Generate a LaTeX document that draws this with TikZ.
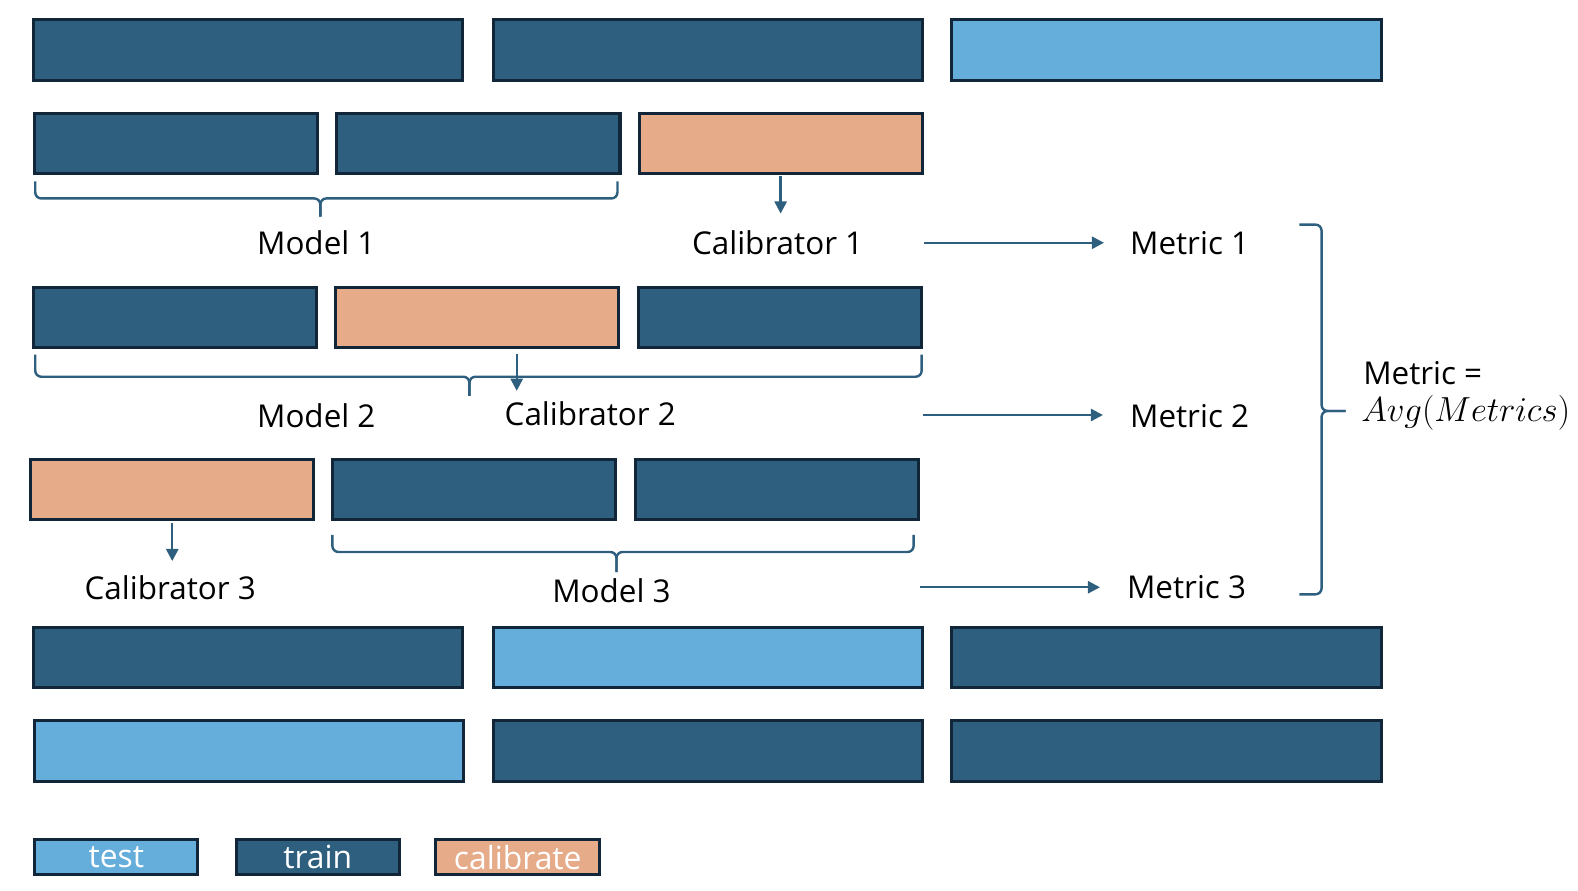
\documentclass[tikz,border=0pt]{standalone}
\usepackage{fontspec}
\setmainfont{Open Sans}
\usetikzlibrary{arrows.meta}
\definecolor{trainc}{HTML}{2F5F7E}
\definecolor{testc}{HTML}{65AEDC}
\definecolor{calc}{HTML}{E6AC8A}
\definecolor{borderc}{HTML}{12263A}
\definecolor{linec}{HTML}{2F5F7E}
\tikzset{
  blk/.style={draw=borderc, line width=1.5pt, inner sep=0pt, outer sep=0pt},
  trainbox/.style={blk, fill=trainc},
  testbox/.style={blk, fill=testc},
  calbox/.style={blk, fill=calc},
  lbl/.style={font=\fontsize{15.6pt}{18pt}\selectfont, inner sep=0pt},
  legtxt/.style={font=\fontsize{15.8pt}{18pt}\selectfont, text=white},
  arr/.style={draw=linec, line width=1.2pt, -{Triangle[length=6pt,width=6pt]}},
  brc/.style={draw=linec, line width=1.2pt, rounded corners=3pt}
}
\newcommand\mkblk[7]{\node[#2, minimum width={(#5-#3-3)*0.5pt}, minimum height={(#6-#4-3)*0.5pt}, legtxt] (#1) at ({(#3+#5)/2},{(#4+#6)/2}) {#7};}
\newcommand\hbrc[6]{%
  \draw[brc] (#1,#4) -- (#1,#5) -- (#3,#5) -- (#3,#6);
  \draw[brc] (#2,#4) -- (#2,#5) -- (#3,#5) -- (#3,#6);}
\begin{document}
\begin{tikzpicture}[x=0.5pt,y=-0.5pt]
\useasboundingbox (0,0) rectangle (1566.6,884.5);
% row 1
\mkblk{r1a}{trainbox}{32}{18}{461}{81}{}
\mkblk{r1b}{trainbox}{488}{18}{917}{81}{}
\mkblk{r1c}{testbox}{943}{18}{1373}{81}{}
% row 2
\mkblk{r2a}{trainbox}{33}{111}{317}{174}{}
\mkblk{r2b}{trainbox}{333}{111}{617}{174}{}
\mkblk{r2c}{calbox}{633}{111}{917}{174}{}
% row 3
\mkblk{r3a}{trainbox}{32}{284}{316}{346}{}
\mkblk{r3b}{calbox}{332}{284}{616}{346}{}
\mkblk{r3c}{trainbox}{632}{284}{916}{346}{}
% row 4
\mkblk{r4a}{calbox}{29}{455}{313}{517}{}
\mkblk{r4b}{trainbox}{329}{455}{613}{517}{}
\mkblk{r4c}{trainbox}{629}{455}{913}{517}{}
% row 5
\mkblk{r5a}{trainbox}{32}{621}{461}{684}{}
\mkblk{r5b}{testbox}{488}{621}{917}{684}{}
\mkblk{r5c}{trainbox}{943}{621}{1373}{684}{}
% row 6
\mkblk{r6a}{testbox}{33}{714}{462}{777}{}
\mkblk{r6b}{trainbox}{488}{714}{917}{777}{}
\mkblk{r6c}{trainbox}{943}{714}{1373}{777}{}
% legend
\mkblk{lgtest}{testbox}{33}{832}{198}{870}{test}
\mkblk{lgtrain}{trainbox}{233}{832}{398}{870}{train}
\mkblk{lgcal}{calbox}{431}{832}{597}{870}{calibrate}
% labels
\node[lbl] (m1) at (314,241) {Model 1};
\node[lbl] (cal1) at (772,241) {Calibrator 1};
\node[lbl] (met1) at (1181,241) {Metric 1};
\node[lbl] (m2) at (314,413) {Model 2};
\node[lbl] (cal2) at (586,411) {Calibrator 2};
\node[lbl] (met2) at (1181,413) {Metric 2};
\node[lbl] (cal3) at (169,583) {Calibrator 3};
\node[lbl] (m3) at (607,586) {Model 3};
\node[lbl] (met3) at (1178,583) {Metric 3};
\node[lbl, anchor=west] (mavg) at (1353,370) {Metric =};
\node[lbl, anchor=west, font=\fontsize{18.5pt}{20pt}\selectfont] (mavgf) at (1351,410) {$Avg(Metrics)$};
% braces
\hbrc{35}{613}{318}{180}{197}{215}
\hbrc{35}{915}{466}{352}{374}{393}
\hbrc{330}{907}{612}{531}{548}{568}
\draw[brc] (1290,223) -- (1312,223) -- (1312,408) -- (1336,408);
\draw[brc] (1290,590) -- (1312,590) -- (1312,408) -- (1336,408);
% calibrator arrows
\coordinate (c1s) at (775,175);
\coordinate (c1e) at (775,212);
\coordinate (c2s) at (513,351);
\coordinate (c2e) at (513,388);
\coordinate (c3s) at (171,519);
\coordinate (c3e) at (171,557);
\draw[arr] (c1s) -- (c1e);
\draw[arr] (c2s) -- (c2e);
\draw[arr] (c3s) -- (c3e);
% metric arrows
\coordinate (a1s) at (917,241);
\coordinate (a1e) at (1096,241);
\coordinate (a2s) at (916,412);
\coordinate (a2e) at (1095,412);
\coordinate (a3s) at (913,583);
\coordinate (a3e) at (1092,583);
\draw[arr] (a1s) -- (a1e);
\draw[arr] (a2s) -- (a2e);
\draw[arr] (a3s) -- (a3e);
\end{tikzpicture}
\end{document}
